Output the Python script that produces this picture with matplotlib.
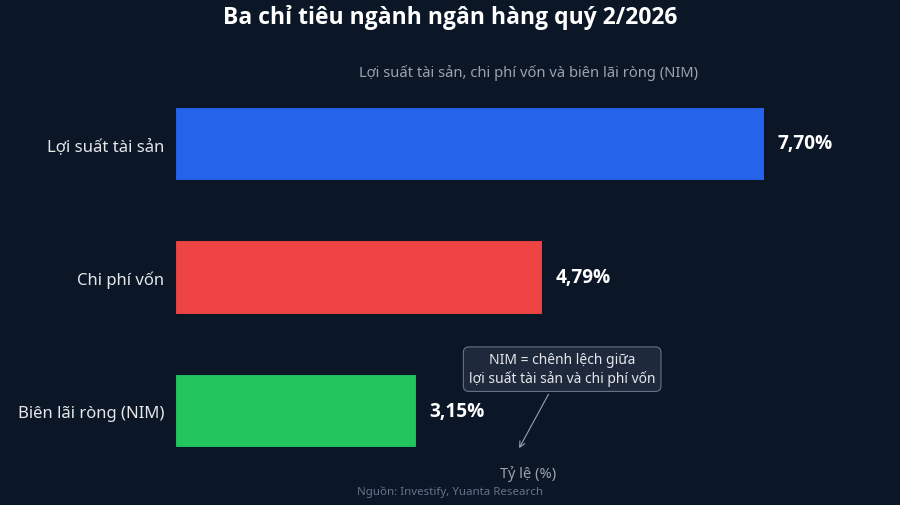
import matplotlib
matplotlib.use("Agg")
import matplotlib.pyplot as plt

categories = ["Lợi suất tài sản", "Chi phí vốn", "Biên lãi ròng (NIM)"]
values = [7.70, 4.79, 3.15]
value_labels = ["7,70%", "4,79%", "3,15%"]
colors = ["#2563eb", "#ef4444", "#22c55e"]

BG = "#0b1626"
plt.rcParams["font.family"] = ["Noto Sans", "DejaVu Sans"]
BOLD = ["Open Sans", "Noto Sans", "DejaVu Sans"]

fig = plt.figure(figsize=(9, 5.06), dpi=100, facecolor=BG)
ax = fig.add_axes([175/900, 1 - 465/506, (882-175)/900, (465-91)/506])
ax.set_facecolor(BG)

y = list(range(len(categories)))
ax.barh(y, values, height=0.55, color=colors, edgecolor=BG, linewidth=0.8)
ax.set_xlim(0, max(values) * 1.2)
ax.set_ylim(2.4, -0.4)

for yi, v, lab in zip(y, values, value_labels):
    ax.text(v + 0.18, yi, lab, color="white", fontsize=13.7, fontweight="bold",
            family=BOLD, va="center", ha="left")

ax.set_yticks(y)
ax.set_yticklabels(categories, color="#e5e7eb", fontsize=12)
ax.tick_params(axis="y", length=0, pad=8)
ax.set_xticks([])
for s in ax.spines.values():
    s.set_visible(False)

ax.set_xlabel("Tỷ lệ (%)", color="#9ca3af", fontsize=10.5, labelpad=1)
ax.set_title("Lợi suất tài sản, chi phí vốn và biên lãi ròng (NIM)",
             color="#9ca3af", fontsize=10.6, pad=10, loc="center", x=0.5)

ax.annotate("NIM = chênh lệch giữa\nlợi suất tài sản và chi phí vốn",
            xy=(4.48, 2.30), xytext=(5.06, 1.69),
            ha="center", va="center", color="#e5e7eb", fontsize=10,
            bbox=dict(boxstyle="round,pad=0.4", fc="#1e293b", ec="#64748b", lw=0.8),
            arrowprops=dict(arrowstyle="->", color="#94a3b8", lw=0.8))

fig.text(0.5, 1 - 18/506, "Ba chỉ tiêu ngành ngân hàng quý 2/2026", ha="center",
         va="center", color="white", fontsize=16.5, fontweight="bold", family=BOLD)
fig.text(0.5, 1 - 492/506, "Nguồn: Investify, Yuanta Research", ha="center",
         va="center", color="#64748b", fontsize=8.3)

fig.savefig("out.png", dpi=100, facecolor=BG)
